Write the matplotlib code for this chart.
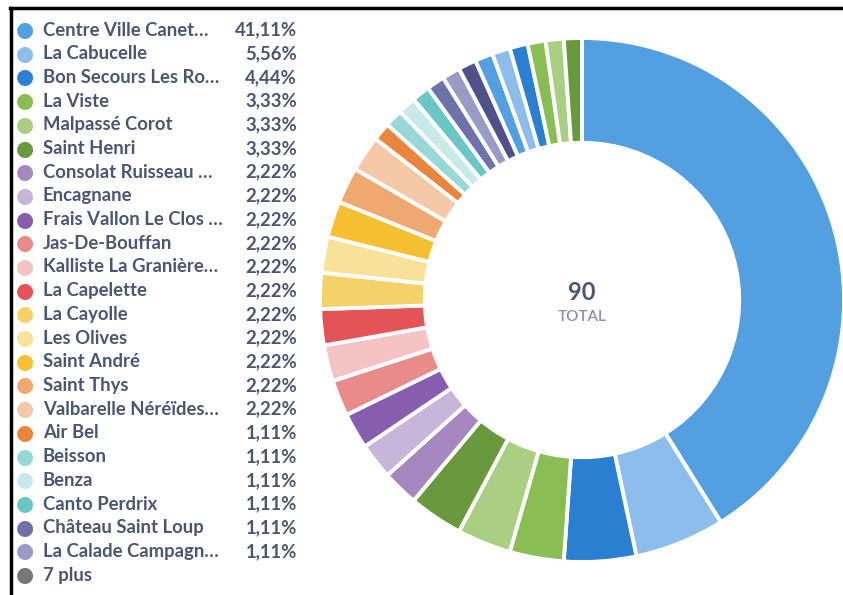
import matplotlib
matplotlib.use("Agg")
import matplotlib.pyplot as plt
from matplotlib.lines import Line2D

# quartiers et effectifs (total 90)
names = ["Centre Ville Canet…", "La Cabucelle", "Bon Secours Les Ro…", "La Viste",
         "Malpassé Corot", "Saint Henri", "Consolat Ruisseau …", "Encagnane",
         "Frais Vallon Le Clos …", "Jas-De-Bouffan", "Kalliste La Granière…",
         "La Capelette", "La Cayolle", "Les Olives", "Saint André", "Saint Thys",
         "Valbarelle Néréïdes…", "Air Bel", "Beisson", "Benza", "Canto Perdrix",
         "Château Saint Loup", "La Calade Campagn…"]
counts = [37, 5, 4, 3, 3, 3, 2, 2, 2, 2, 2, 2, 2, 2, 2, 2, 2, 1, 1, 1, 1, 1, 1]
colors = ["#539fdf", "#8cbdeb", "#2b7fd0", "#8bbd55", "#a8cf82", "#6a983d",
          "#a688c1", "#c8b5da", "#875daf", "#ea8b8b", "#f5c3c4", "#e35358",
          "#f5d16a", "#f8e199", "#f5c132", "#f0a871", "#f5c9a8", "#ea853d",
          "#98d8d6", "#c8eaea", "#6ac7c5", "#6e72ab", "#9a9bc4"]
# les 7 autres quartiers (1 chacun)
plus_counts = [1, 1, 1, 1, 1, 1, 1]
plus_colors = ["#4f5289", "#539fdf", "#8cbdeb", "#2b7fd0", "#8bbd55", "#a8cf82", "#6a983d"]

txt = "#4a5572"
W, H = 843, 595
fig = plt.figure(figsize=(W/100, H/100), dpi=100)

total = sum(counts) + sum(plus_counts)

# donut
cx, cy, r = 582, 300, 262
ax = fig.add_axes([(cx-r)/W, (H-cy-r)/H, 2*r/W, 2*r/H])
ax.pie(counts + plus_counts, colors=colors + plus_colors, startangle=90,
       counterclock=False, radius=1,
       wedgeprops=dict(width=0.4, edgecolor="white", linewidth=2.8))
ax.set_xlim(-1, 1)
ax.set_ylim(-1, 1)
ax.axis("off")
ax.text(0, 0.03, str(total), ha="center", va="center", fontsize=17,
        fontfamily="Lato", fontweight="bold", color=txt)
ax.text(0, -0.065, "TOTAL", ha="center", va="center", fontsize=11,
        fontfamily="Lato", fontweight="semibold", color="#8a92a8")

# legende
y0, dy = 30, 23.7
fs = 13.3
for i, (n, c, col) in enumerate(zip(names, counts, colors)):
    y = 1 - (y0 + i*dy)/H
    fig.text(25/W, y, "●", color=col, fontsize=15, ha="center", va="center")
    fig.text(43/W, y, n, color=txt, fontsize=fs, fontfamily="Lato",
             fontweight="bold", va="center")
    pct = f"{100*c/total:.2f}%".replace(".", ",")
    fig.text(297/W, y, pct, color=txt, fontsize=fs, fontfamily="Lato",
             fontweight="bold", va="center", ha="right")
y = 1 - (y0 + len(names)*dy)/H
fig.text(25/W, y, "●", color="#777777", fontsize=15, ha="center", va="center")
fig.text(43/W, y, f"{len(plus_counts)} plus", color=txt, fontsize=fs,
         fontfamily="Lato", fontweight="bold", va="center")

# cadre
fig.add_artist(Line2D([10/W, 1], [1-8/H, 1-8/H], color="black", lw=2.5,
                      transform=fig.transFigure))
fig.add_artist(Line2D([11/W, 11/W], [0, 1-8/H], color="black", lw=2.5,
                      transform=fig.transFigure))

fig.savefig("out.png", dpi=100)
